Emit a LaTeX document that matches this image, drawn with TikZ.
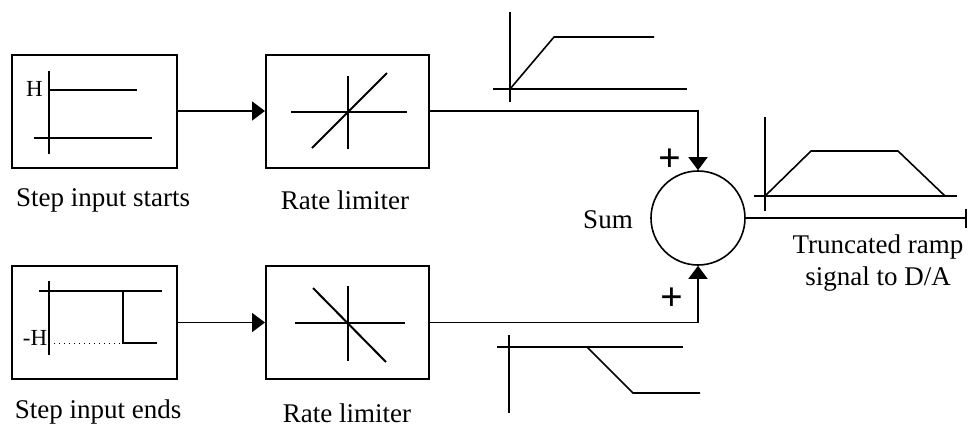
\documentclass[tikz,border=0pt]{standalone}
\usepackage{fontspec}
\setmainfont{Liberation Serif}
\usetikzlibrary{arrows.meta}
\begin{document}
\begin{tikzpicture}[x=0.5pt,y=-0.5pt,
  blk/.style={draw,line width=1pt,minimum width=82.5pt,minimum height=56.5pt,inner sep=0pt},
  lbl/.style={font=\fontsize{13.5}{16}\selectfont,inner sep=0pt},
  small/.style={font=\fontsize{11.5}{12}\selectfont,inner sep=0pt},
  plus/.style={font=\fontsize{20}{20}\selectfont\bfseries,inner sep=0pt},
  ax/.style={line width=0.55pt},
  sig/.style={line width=1pt},
  sigb/.style={line width=0.8pt},
  conn/.style={line width=0.8pt},
  tip/.style={-{Triangle[length=6.5pt,width=9.5pt]}}]
\useasboundingbox (0,0) rectangle (969,425);
% blocks
\node[blk] (s1) at (94.5,111) {};
\node[blk] (s2) at (94.5,322.5) {};
\node[blk,minimum width=81.5pt] (r1) at (347.5,111) {};
\node[blk,minimum width=81.5pt] (r2) at (347.5,322.5) {};
\node[circle,draw,line width=0.8pt,minimum size=47pt,inner sep=0pt] (sum) at (698,218) {};
\coordinate (out) at (967,218);
% connectors
\draw[conn,tip] (s1.east) -- (r1.west);
\draw[conn,tip] (s2.east) -- (r2.west);
\draw[conn,tip] (r1.east) -| (sum.north);
\draw[conn,tip] (r2.east) -| (sum.south);
\draw[conn,-{Bar[width=9.5pt,line width=1pt]}] (sum.east) -- (out);
% step input starts graph
\draw[ax] (49,71) -- (49,154);
\draw[ax] (34,138) -- (152,138);
\draw[sig] (49,90) -- (137,90);
\node[small] (hh) at (34.5,89) {H};
% step input ends graph
\draw[ax] (49,281) -- (49,355);
\draw[ax] (39,291) -- (162,291);
\draw[sig] (123,291) -- (123,343) -- (157,343);
\draw[line width=0.5pt,dotted] (49,343) -- (123,343);
\node[small] (mh) at (35,338) {-H};
% rate limiter 1
\draw[ax] (348,76) -- (348,149);
\draw[ax] (291,112) -- (407,112);
\draw[sig] (312,148) -- (387,73);
% rate limiter 2
\draw[ax] (348,286) -- (348,361);
\draw[ax] (295,323) -- (405,323);
\draw[sig] (313,288) -- (386,362);
% top output graph
\draw[ax] (510,12) -- (510,102);
\draw[ax] (493,89) -- (687,89);
\draw[sigb] (510,89) -- (554,37) -- (654,37);
% bottom output graph
\draw[ax] (509,335) -- (509,413);
\draw[ax] (497,347) -- (683,347);
\draw[sigb] (509,347) -- (587,347) -- (633,393) -- (700,393);
% sum output graph
\draw[ax] (765,117) -- (765,211);
\draw[ax] (754,196) -- (957,196);
\draw[sigb] (765,196) -- (811,151) -- (898,151) -- (945,196);
% labels
\node[lbl] (l1) at (103,200) {Step input starts};
\node[lbl] (l2) at (98,412) {Step input ends};
\node[lbl] (l3) at (345,200) {Rate limiter};
\node[lbl] (l4) at (347,413) {Rate limiter};
\node[lbl] (l5) at (608,220) {Sum};
\node[lbl,align=center] (l6) at (878,263) {Truncated ramp\\signal to D/A};
\node[plus] (p1) at (670,160) {+};
\node[plus] (p2) at (672,299) {+};
\end{tikzpicture}
\end{document}
